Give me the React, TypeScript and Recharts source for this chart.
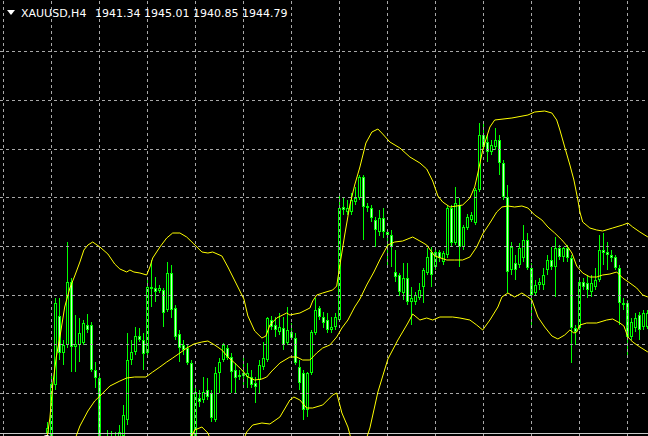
import React from 'react';
import { ComposedChart, Bar, Line, XAxis, YAxis, ReferenceLine } from 'recharts';

const W = 648;
const H = 436;

const symbolLabel = 'XAUUSD,H4';
const ohlcLabel = '1941.34 1945.01 1940.85 1944.79';

const openP = [
  1932.6, 1932.2, 1937.5, 1944.4, 1940.7, 1941.5, 1947.8, 1941.3, 1941.5, 1941.7,
  1943.5, 1943.5, 1939.0, 1938.2, 1931.0, 1931.5, 1931.8, 1932.3, 1931.5, 1932.4,
  1934.0, 1940.0, 1940.8, 1942.4, 1942.0, 1940.7, 1947.1, 1947.2, 1946.9, 1947.0,
  1945.0, 1948.7, 1945.2, 1942.6, 1941.5, 1941.2, 1939.7, 1932.2, 1936.2, 1936.0,
  1937.0, 1936.7, 1934.0, 1938.7, 1940.0, 1941.2, 1940.3, 1939.0, 1938.3, 1938.7,
  1938.3, 1938.3, 1937.7, 1938.0, 1939.3, 1940.0, 1944.0, 1943.5, 1942.8, 1943.2,
  1941.7, 1942.8, 1942.2, 1939.3, 1938.7, 1935.0, 1938.7, 1942.7, 1945.2, 1944.3,
  1944.0, 1943.0, 1943.3, 1944.0, 1955.3, 1954.8, 1954.8, 1955.8, 1956.2, 1958.3,
  1955.4, 1955.2, 1954.0, 1952.8, 1954.2, 1952.8, 1952.5, 1948.8, 1948.5, 1946.7,
  1948.2, 1945.8, 1945.8, 1946.2, 1947.3, 1948.7, 1950.8, 1949.3, 1950.8, 1949.8,
  1950.5, 1955.2, 1951.7, 1955.5, 1951.3, 1953.2, 1954.0, 1953.7, 1957.0, 1962.5,
  1961.8, 1960.8, 1961.3, 1962.0, 1959.7, 1956.3, 1949.0, 1949.7, 1949.5, 1950.2,
  1952.0, 1949.2, 1946.7, 1947.5, 1947.5, 1949.0, 1950.0, 1949.3, 1951.2, 1950.3,
  1951.2, 1950.2, 1943.2, 1943.2, 1947.8, 1947.7, 1946.8, 1947.3, 1948.0, 1951.0,
  1950.8, 1950.5, 1950.3, 1949.2, 1945.7, 1945.7, 1942.3, 1943.2, 1944.5, 1943.3,
  1943.3,
];

const highP = [
  1933.8, 1938.7, 1946.2, 1946.2, 1942.0, 1951.8, 1948.2, 1944.5, 1944.2, 1944.0,
  1944.6, 1943.8, 1939.8, 1938.4, 1932.0, 1933.0, 1932.9, 1932.8, 1933.5, 1935.5,
  1942.7, 1942.0, 1943.3, 1943.2, 1942.7, 1948.0, 1950.0, 1948.3, 1947.5, 1947.2,
  1949.8, 1949.5, 1945.5, 1943.0, 1942.0, 1941.5, 1940.0, 1937.2, 1937.0, 1938.3,
  1938.2, 1937.0, 1939.3, 1940.2, 1941.7, 1941.5, 1940.7, 1939.7, 1939.0, 1940.5,
  1939.7, 1939.0, 1938.3, 1940.0, 1941.8, 1944.3, 1944.4, 1944.3, 1944.7, 1944.3,
  1945.3, 1943.7, 1942.7, 1940.0, 1939.0, 1938.8, 1943.0, 1946.2, 1945.4, 1944.8,
  1944.7, 1944.3, 1944.7, 1956.5, 1956.3, 1956.0, 1956.7, 1957.3, 1958.5, 1958.5,
  1955.7, 1955.5, 1954.3, 1955.0, 1955.2, 1953.0, 1953.0, 1951.0, 1948.7, 1949.7,
  1949.7, 1947.3, 1946.8, 1947.7, 1949.2, 1951.2, 1951.3, 1951.0, 1951.0, 1950.9,
  1955.5, 1955.5, 1957.3, 1956.2, 1953.5, 1954.6, 1954.8, 1957.2, 1963.7, 1963.7,
  1962.5, 1962.0, 1963.2, 1962.5, 1960.0, 1957.5, 1951.8, 1950.5, 1951.7, 1953.5,
  1952.7, 1949.7, 1948.0, 1948.2, 1949.2, 1950.5, 1951.3, 1952.3, 1951.5, 1951.3,
  1951.5, 1950.5, 1943.5, 1948.0, 1948.2, 1948.5, 1948.5, 1949.2, 1952.5, 1952.7,
  1951.8, 1951.0, 1950.5, 1949.5, 1946.2, 1946.0, 1944.2, 1944.7, 1944.8, 1945.0,
  1945.0,
];

const lowP = [
  1932.0, 1931.8, 1937.0, 1940.0, 1939.5, 1941.2, 1938.8, 1938.8, 1939.8, 1941.5,
  1942.7, 1938.8, 1937.2, 1930.5, 1930.0, 1930.5, 1931.0, 1930.8, 1931.2, 1932.0,
  1933.5, 1939.5, 1940.5, 1941.8, 1939.0, 1940.4, 1945.3, 1945.8, 1946.7, 1943.3,
  1944.8, 1944.2, 1942.0, 1939.8, 1940.5, 1939.5, 1931.5, 1931.8, 1935.3, 1935.7,
  1936.0, 1933.8, 1933.8, 1936.7, 1939.8, 1940.0, 1936.7, 1936.7, 1938.0, 1937.3,
  1937.2, 1937.2, 1935.7, 1936.7, 1939.0, 1939.8, 1943.0, 1942.3, 1942.5, 1941.0,
  1941.5, 1942.0, 1939.5, 1937.0, 1934.0, 1934.3, 1938.5, 1942.5, 1944.0, 1943.2,
  1942.7, 1942.7, 1943.0, 1943.8, 1954.5, 1954.5, 1954.5, 1955.5, 1956.0, 1952.0,
  1954.8, 1953.8, 1951.3, 1952.4, 1952.2, 1949.5, 1949.3, 1947.8, 1946.4, 1946.0,
  1945.5, 1943.5, 1945.5, 1946.0, 1945.7, 1948.5, 1947.3, 1949.0, 1949.8, 1949.5,
  1950.2, 1951.3, 1951.5, 1949.3, 1951.0, 1953.0, 1953.8, 1953.5, 1956.8, 1961.0,
  1959.8, 1960.5, 1961.0, 1958.5, 1956.0, 1946.7, 1948.5, 1948.0, 1949.2, 1949.8,
  1949.0, 1943.2, 1946.4, 1947.0, 1947.0, 1948.5, 1949.0, 1946.3, 1950.0, 1949.8,
  1949.8, 1939.7, 1941.5, 1943.0, 1947.0, 1946.2, 1946.3, 1947.0, 1947.8, 1949.5,
  1949.0, 1949.8, 1949.0, 1943.5, 1945.0, 1940.2, 1942.0, 1942.8, 1942.0, 1943.0,
  1943.1,
];

const closeP = [
  1933.2, 1937.6, 1945.7, 1940.7, 1941.5, 1947.8, 1941.3, 1941.6, 1942.7, 1943.7,
  1943.0, 1939.0, 1938.2, 1931.0, 1931.5, 1932.2, 1932.4, 1931.3, 1932.8, 1934.5,
  1940.0, 1940.8, 1942.4, 1942.0, 1940.6, 1947.3, 1947.3, 1946.8, 1947.2, 1944.7,
  1948.7, 1945.0, 1942.3, 1941.2, 1941.0, 1939.7, 1932.0, 1936.8, 1935.8, 1936.8,
  1936.3, 1934.2, 1938.7, 1939.8, 1941.5, 1940.2, 1938.8, 1938.2, 1938.5, 1938.4,
  1938.7, 1937.5, 1937.3, 1939.5, 1940.2, 1944.2, 1943.3, 1943.0, 1943.3, 1941.5,
  1943.0, 1942.2, 1939.7, 1937.7, 1935.0, 1938.7, 1942.8, 1945.0, 1944.3, 1943.7,
  1943.0, 1943.3, 1944.3, 1955.2, 1955.0, 1955.2, 1956.0, 1956.2, 1958.3, 1955.3,
  1955.2, 1954.2, 1953.0, 1954.2, 1952.8, 1952.5, 1951.3, 1948.3, 1946.8, 1948.2,
  1945.8, 1946.2, 1946.5, 1947.0, 1949.0, 1950.3, 1948.5, 1950.8, 1950.2, 1950.7,
  1955.2, 1951.7, 1955.7, 1951.3, 1953.3, 1954.3, 1954.5, 1957.0, 1962.5, 1961.3,
  1960.8, 1961.5, 1962.0, 1959.7, 1956.3, 1948.8, 1951.3, 1949.0, 1951.2, 1952.0,
  1949.2, 1946.5, 1947.5, 1947.8, 1948.5, 1950.0, 1949.3, 1951.2, 1950.3, 1951.2,
  1950.2, 1943.2, 1942.8, 1947.8, 1947.3, 1947.0, 1947.7, 1948.0, 1951.0, 1950.7,
  1950.5, 1950.2, 1949.2, 1945.7, 1945.5, 1942.3, 1943.8, 1944.2, 1943.0, 1944.7,
  1944.7,
];

// Bollinger bands: [bar index, price]
const upperBand = [
  [-0.2, 1932.0], [0.6, 1934.2], [1.3, 1937.5], [2.2, 1940.3], [3.1, 1942.3], [4.3, 1945.3],
  [5.6, 1947.2], [6.8, 1948.4], [8.1, 1949.8], [9.1, 1951.0], [10.1, 1951.5], [11.3, 1951.8],
  [13.1, 1951.3], [15.1, 1950.6], [16.8, 1949.6], [18.1, 1949.1], [19.8, 1948.8], [20.6, 1949.0],
  [21.6, 1948.8], [23.1, 1948.7], [24.8, 1948.5], [25.6, 1949.3], [26.3, 1950.2], [28.1, 1951.3],
  [29.8, 1952.2], [31.3, 1952.7], [33.1, 1952.7], [34.8, 1952.3], [36.6, 1951.6], [38.6, 1950.8],
  [40.1, 1950.7], [41.3, 1950.8], [43.6, 1950.4], [45.1, 1949.3], [47.6, 1947.3], [49.1, 1946.1],
  [50.1, 1944.4], [51.8, 1942.9], [53.6, 1942.2], [54.6, 1942.4], [55.6, 1943.5], [57.3, 1944.2],
  [59.8, 1944.7], [60.6, 1944.5], [63.1, 1944.7], [65.6, 1945.2], [66.3, 1945.9], [67.3, 1946.5],
  [68.8, 1946.7], [71.3, 1947.0], [72.3, 1947.4], [73.1, 1949.5], [74.3, 1952.5], [75.6, 1955.5],
  [76.8, 1957.5], [78.1, 1959.3], [79.6, 1961.7], [81.1, 1962.8], [82.6, 1963.1], [83.8, 1962.6],
  [85.6, 1961.8], [88.1, 1961.2], [90.6, 1960.3], [93.1, 1959.7], [94.8, 1959.1], [96.3, 1957.9],
  [97.6, 1956.4], [98.8, 1955.8], [100.6, 1955.3], [102.3, 1955.4], [103.8, 1955.5], [105.6, 1956.2],
  [106.8, 1957.3], [107.6, 1958.7], [108.8, 1961.0], [109.8, 1962.3], [110.6, 1963.3], [111.8, 1964.0],
  [116.1, 1964.2], [120.1, 1964.5], [121.8, 1964.8], [124.3, 1964.9], [126.1, 1964.7], [127.3, 1964.0],
  [128.1, 1963.0], [129.3, 1961.3], [130.6, 1959.5], [131.6, 1958.0], [132.6, 1956.0], [133.1, 1954.8],
  [133.8, 1953.8], [135.6, 1953.2], [137.3, 1953.0], [138.8, 1952.9], [141.3, 1953.2], [143.8, 1953.5],
  [145.1, 1953.7], [146.3, 1953.3], [148.1, 1952.8], [150.1, 1952.3],
];

const middleBand = [
  [6.8, 1932.0], [8.1, 1933.4], [10.1, 1934.9], [11.8, 1935.9], [13.1, 1936.4], [15.6, 1937.4],
  [18.1, 1937.9], [19.8, 1938.2], [21.8, 1938.3], [24.6, 1938.3], [26.3, 1938.8], [28.1, 1939.3],
  [29.8, 1939.8], [31.3, 1940.2], [33.1, 1940.7], [34.8, 1941.2], [36.6, 1941.6], [38.6, 1941.8],
  [40.1, 1941.9], [41.8, 1941.5], [43.6, 1941.0], [45.1, 1940.3], [46.8, 1939.7], [48.6, 1939.0],
  [50.1, 1938.3], [51.8, 1938.0], [53.6, 1938.1], [54.8, 1938.3], [56.1, 1938.9], [58.1, 1939.7],
  [60.6, 1940.3], [62.3, 1940.3], [63.8, 1940.0], [65.6, 1940.0], [67.3, 1940.7], [68.8, 1941.2],
  [70.6, 1941.5], [72.3, 1942.3], [73.6, 1943.2], [75.1, 1944.0], [76.8, 1945.3], [78.1, 1946.1],
  [79.8, 1947.5], [81.6, 1948.8], [83.3, 1950.2], [85.1, 1951.5], [86.8, 1951.8], [88.8, 1951.9],
  [91.3, 1952.3], [93.1, 1951.9], [94.8, 1951.5], [96.8, 1950.4], [99.8, 1950.0], [101.8, 1950.0],
  [103.8, 1950.0], [105.6, 1950.3], [107.3, 1951.3], [108.8, 1952.6], [110.6, 1953.7], [112.3, 1954.8],
  [113.6, 1955.3], [115.1, 1955.4], [116.8, 1955.3], [118.6, 1955.4], [120.1, 1955.2], [121.8, 1954.5],
  [123.6, 1954.0], [125.1, 1953.3], [126.8, 1952.7], [128.6, 1952.0], [130.1, 1951.3], [131.1, 1950.7],
  [132.3, 1949.4], [133.8, 1948.7], [135.6, 1948.3], [137.3, 1948.3], [138.8, 1948.5], [140.6, 1948.6],
  [142.3, 1948.8], [143.8, 1948.2], [145.6, 1947.7], [147.3, 1947.2], [148.8, 1946.5], [150.1, 1946.3],
];

const lowerBand = [
  [35.1, 1931.5], [36.8, 1933.0], [38.6, 1933.3], [40.1, 1932.7], [41.3, 1931.5], [45.1, 1931.0],
  [48.8, 1931.8], [49.8, 1932.8], [51.3, 1933.5], [53.6, 1933.7], [55.6, 1933.6], [58.1, 1934.3],
  [60.6, 1936.0], [61.6, 1936.3], [63.1, 1936.0], [64.8, 1935.2], [66.3, 1935.2], [68.8, 1935.5],
  [71.3, 1936.5], [72.3, 1936.7], [73.6, 1934.7], [75.1, 1933.3], [76.3, 1931.5], [78.6, 1930.8],
  [80.6, 1933.2], [82.6, 1936.8], [85.1, 1940.1], [87.6, 1942.0], [90.1, 1943.7], [91.3, 1944.6],
  [93.1, 1944.0], [94.8, 1944.2], [96.3, 1944.0], [98.1, 1944.3], [101.3, 1944.3], [103.1, 1944.2],
  [105.6, 1944.0], [107.3, 1943.5], [108.8, 1943.0], [110.6, 1944.0], [112.6, 1945.3], [113.6, 1946.3],
  [115.1, 1946.7], [116.8, 1946.3], [118.6, 1946.7], [120.1, 1946.3], [121.1, 1946.0], [122.6, 1944.3],
  [124.3, 1943.3], [126.1, 1942.4], [127.6, 1942.1], [129.3, 1942.5], [130.6, 1943.0], [131.6, 1942.7],
  [132.3, 1942.8], [133.1, 1943.5], [134.8, 1943.7], [137.3, 1943.7], [139.8, 1944.0], [141.3, 1944.1],
  [143.1, 1943.7], [144.1, 1943.4], [145.1, 1942.3], [146.3, 1941.8], [148.1, 1941.3], [150.1, 1940.8],
];

const gridBars = [-11, 1, 13, 25, 37, 49, 61, 73, 85, 97, 109, 121, 133, 145];
const gridPrices = [1970.85, 1965.97, 1961.09, 1956.21, 1951.33, 1946.45, 1941.57, 1936.69];
const frameBottomPrice = 1932.65;

const candles = openP.map((o, i) => ({ i, open: o, high: highP[i], low: lowP[i], close: closeP[i] }));
const toSeries = (pts: number[][]) => pts.map(([i, v]) => ({ i, v }));

const BAR_COLOR = '#00ff00';
const BAND_COLOR = '#ffff00';
const GRID_COLOR = '#a8a8a8';

const Candle = (props: any) => {
  const { x, y, width, height, payload } = props;
  if (x == null || y == null || !payload) return null;
  const { open, close, high, low } = payload;
  const top = Math.min(y, y + height);
  const bot = Math.max(y, y + height);
  const range = high - low;
  const toY = (v: number) => (range === 0 ? top : top + ((high - v) / range) * (bot - top));
  const c = Math.floor(x + width / 2);
  const yHigh = Math.round(toY(high));
  const yLow = Math.round(toY(low));
  const yO = Math.round(toY(open));
  const yC = Math.round(toY(close));
  const bTop = Math.min(yO, yC);
  const bBot = Math.max(yO, yC);
  const bull = close >= open;
  const h = Math.max(bBot - bTop, 1);
  return (
    <g shapeRendering="crispEdges">
      <line x1={c + 0.5} x2={c + 0.5} y1={yHigh} y2={Math.max(yLow, yHigh + 1)} stroke={BAR_COLOR} strokeWidth={1} />
      {h <= 2 ? (
        <rect x={c - 1} y={bTop} width={3} height={h} fill={BAR_COLOR} />
      ) : (
        <rect
          x={c - 0.5}
          y={bTop + 0.5}
          width={2}
          height={h - 1}
          fill={bull ? '#000000' : '#c8ffc8'}
          stroke={BAR_COLOR}
          strokeWidth={1}
        />
      )}
    </g>
  );
};

export default function App() {
  return (
    <div style={{ position: 'fixed', left: 0, top: 0, width: W, height: H, background: '#000', overflow: 'hidden' }}>
      <ComposedChart width={W} height={H} data={candles} margin={{ top: 0, right: 0, bottom: 0, left: 0 }}>
        <XAxis type="number" dataKey="i" domain={[-11.875, 150.125]} hide allowDataOverflow />
        <YAxis type="number" domain={[1932.4, 1976]} hide allowDataOverflow />
        {gridBars.map((g) => (
          <ReferenceLine key={'gx' + g} x={g} stroke={GRID_COLOR} strokeDasharray="3 3" shapeRendering="crispEdges" />
        ))}
        {gridPrices.map((g) => (
          <ReferenceLine key={'gy' + g} y={g} stroke={GRID_COLOR} strokeDasharray="3 3" shapeRendering="crispEdges" />
        ))}
        <ReferenceLine y={frameBottomPrice} stroke="#c8c8c8" shapeRendering="crispEdges" />
        <Bar
          dataKey={(d: any) => [d.low, d.high]}
          barSize={3}
          isAnimationActive={false}
          shape={(p: any) => <Candle {...p} />}
        />
        <Line data={toSeries(upperBand)} dataKey="v" type="linear" dot={false} stroke={BAND_COLOR} strokeWidth={1} isAnimationActive={false} />
        <Line data={toSeries(middleBand)} dataKey="v" type="linear" dot={false} stroke={BAND_COLOR} strokeWidth={1} isAnimationActive={false} />
        <Line data={toSeries(lowerBand)} dataKey="v" type="linear" dot={false} stroke={BAND_COLOR} strokeWidth={1} isAnimationActive={false} />
      </ComposedChart>
      <svg width={W} height={24} style={{ position: 'absolute', left: 0, top: 0, pointerEvents: 'none' }}>
        <polygon points="7,10 15,10 11,15" fill="#ffffff" />
        <text x={21} y={17} fill="#ffffff" fontFamily="DejaVu Sans" fontSize={11}>{symbolLabel}</text>
        <text x={95} y={17} fill="#ffffff" fontFamily="DejaVu Sans" fontSize={11}>{ohlcLabel}</text>
      </svg>
    </div>
  );
}
